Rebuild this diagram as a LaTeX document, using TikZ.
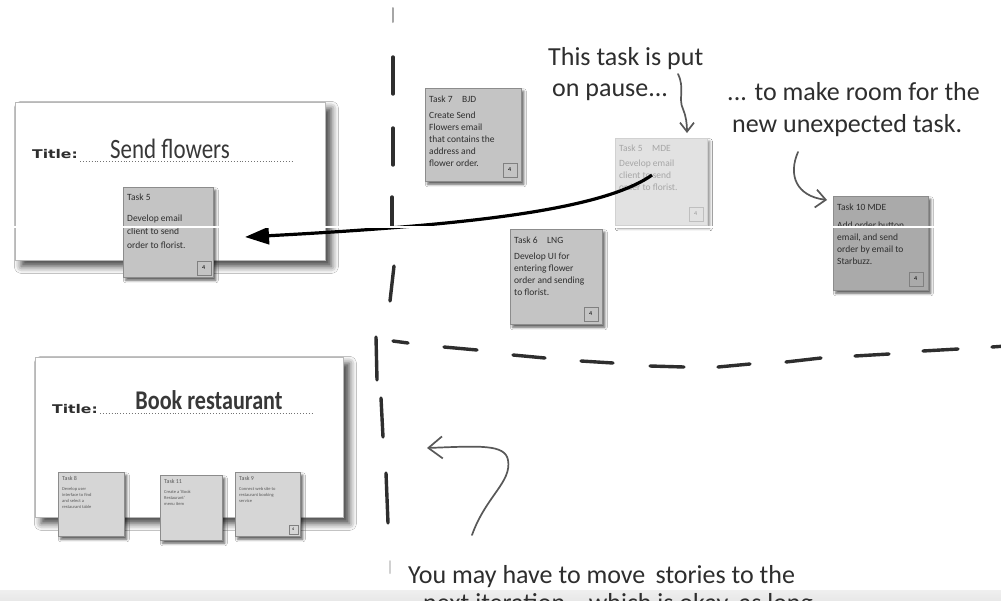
\documentclass[tikz,border=0pt]{standalone}
\usepackage{fontspec}
\setmainfont{Carlito}
\newfontfamily\labelfont{DejaVu Sans}
\usetikzlibrary{arrows.meta,shadows.blur}
\definecolor{ink}{HTML}{2E2E2E}
\definecolor{notegray}{HTML}{C4C4C4}
\definecolor{notedark}{HTML}{AAAAAA}
\definecolor{notefade}{HTML}{E2E2E2}
\definecolor{notelight}{HTML}{D6D6D6}
\definecolor{band}{HTML}{E8E8E8}
\tikzset{
  card/.style={draw=black!28, line width=0.8pt, fill=white, anchor=north west, inner sep=0pt,
    blur shadow={shadow xshift=6pt, shadow yshift=-6pt, shadow blur radius=7pt, shadow opacity=75}},
  note/.style={draw=black!45, line width=0.6pt, fill=notegray, anchor=north west, inner sep=0pt,
    blur shadow={shadow xshift=2.5pt, shadow yshift=-3pt, shadow blur radius=2.5pt, shadow opacity=65}},
  notetext/.style={anchor=north west, align=left, inner sep=0pt, text=ink,
    font=\fontsize{9.5}{12}\selectfont},
  tinytext/.style={anchor=north west, align=left, inner sep=0pt, text=ink!80,
    font=\fontsize{4.5}{6}\selectfont},
  numbox/.style={draw=black!50, line width=0.5pt, minimum size=14pt, inner sep=0pt,
    font=\fontsize{6}{6}\selectfont, anchor=south east},
  titlelabel/.style={font=\labelfont\bfseries\fontsize{12}{14}\selectfont, text=ink, inner sep=0pt},
  titletext/.style={text=black!78, inner sep=0pt},
  dotline/.style={draw=black!55, line width=0.9pt, dotted},
  boardline/.style={draw=ink, line width=3.4pt, line cap=round},
  hand/.style={font=\fontsize{26}{29}\selectfont, text=ink, inner sep=0pt, anchor=base west},
  pen/.style={draw=ink!80, line width=1.7pt, line cap=round},
}
\begin{document}
\begin{tikzpicture}[x=1pt,y=-1pt]
\useasboundingbox (0,0) rectangle (1001,600);
\clip (0,0) rectangle (1001,600);
\fill[white] (0,0) rectangle (1001,600);
% bottom grey band
\shade[top color=band!70, bottom color=band] (0,590) rectangle (1001,600);

% board lines: vertical
\draw[boardline, draw=black!35, line width=2pt] (393,8) -- (393,22);
\draw[boardline] (393,57) -- (393,94);
\draw[boardline] (393,128) -- (393,165);
\draw[boardline] (392,197) -- (392,226);
\draw[boardline] (394,266) -- (390,301);
\draw[boardline] (376,337) -- (377,380);
\draw[boardline] (381,398) -- (383,437);
\draw[boardline] (386,473) -- (388,523);
\draw[boardline, draw=black!18, line width=2pt] (390,561) -- (390,573);
% board lines: horizontal
\draw[boardline] (393,341) -- (408,343);
\draw[boardline] (444,347) -- (477,350);
\draw[boardline] (513,355) -- (545,358);
\draw[boardline] (581,361) -- (613,363);
\draw[boardline] (650,366) -- (684,367);
\draw[boardline] (718,367) -- (750,364);
\draw[boardline] (786,362) -- (821,358);
\draw[boardline] (855,356) -- (889,354);
\draw[boardline] (923,351) -- (958,349);
\draw[boardline] (992,347) -- (1006,346);

% ---- card: Send flowers
\node[card, minimum width=310pt, minimum height=158pt] (card1) at (15,102) {};
\node[titlelabel] (t1lab) at (55,154) {\scalebox{1.3}[1]{Title:}};
\draw[dotline] (80,161) -- (292,161);
\node[titletext] (t1) at (170,149) {\scalebox{0.82}[1]{\fontsize{28}{30}\selectfont Send flowers}};
% note Task 5 on card
\begin{scope}[shift={(123,187)}]
\node[note, minimum width=90pt, minimum height=90pt] (n5) at (0,0) {};
\node[notetext, font=\fontsize{9.5}{13.5}\selectfont] (n5t) at (4,7) {Task 5\\[7pt]Develop email\\client to send\\order to florist.};
\node[numbox] (n5b) at (88,88) {4};
\end{scope}

% ---- card: Book restaurant
\node[card, minimum width=308pt, minimum height=160pt] (card2) at (35,357) {};
\node[titlelabel] (t2lab) at (75,409) {\scalebox{1.3}[1]{Title:}};
\draw[dotline] (100,413) -- (313,413);
\node[titletext] (t2) at (209,400) {\scalebox{0.82}[1]{\fontsize{27}{30}\selectfont\bfseries Book restaurant}};
\begin{scope}[shift={(58,472)}]
\node[note, fill=notelight, minimum width=66pt, minimum height=64pt] (n8) at (0,0) {};
\node[tinytext, font=\fontsize{6}{8}\selectfont] (n8h) at (4,4) {Task 8};
\node[tinytext] (n8t) at (4,15) {Develop user\\interface to find\\and select a\\restaurant table};
\end{scope}
\begin{scope}[shift={(160,475)}]
\node[note, fill=notelight, minimum width=62pt, minimum height=65pt] (n11) at (0,0) {};
\node[tinytext, font=\fontsize{6}{8}\selectfont] (n11h) at (4,4) {Task 11};
\node[tinytext] (n11t) at (4,15) {Create a `Book\\Restaurant'\\menu item};
\end{scope}
\begin{scope}[shift={(235,472)}]
\node[note, fill=notelight, minimum width=65pt, minimum height=64pt] (n9) at (0,0) {};
\node[tinytext, font=\fontsize{6}{8}\selectfont] (n9h) at (4,4) {Task 9};
\node[tinytext] (n9t) at (4,15) {Connect web site to\\restaurant booking\\service};
\node[numbox, minimum size=9pt, font=\fontsize{4}{4}\selectfont] (n9b) at (63,62) {4};
\end{scope}

% ---- Task 7 BJD
\begin{scope}[shift={(425,88)}]
\node[note, minimum width=96pt, minimum height=93pt] (n7) at (0,0) {};
\node[notetext] (n7t) at (4,8) {Task 7\quad BJD\\[4pt]Create Send\\Flowers email\\that contains the\\address and\\flower order.};
\node[numbox] (n7b) at (92,89) {4};
\end{scope}

% ---- Task 6 LNG
\begin{scope}[shift={(510,229)}]
\node[note, minimum width=92pt, minimum height=95pt] (n6) at (0,0) {};
\node[notetext] (n6t) at (4,8) {Task 6\quad LNG\\[4pt]Develop UI for\\entering flower\\order and sending\\to florist.};
\node[numbox] (n6b) at (88,92) {4};
\end{scope}

% ---- Task 5 MDE (paused, faded)
\begin{scope}[shift={(615,138)}]
\node[note, fill=notefade, draw=black!18, minimum width=92pt, minimum height=87pt,
  blur shadow={shadow xshift=2.5pt, shadow yshift=-3pt, shadow blur radius=2.5pt, shadow opacity=25}] (n5m) at (0,0) {};
\node[notetext, text=black!35] (n5mt) at (4,7) {Task 5\quad MDE\\[3pt]Develop email\\client to send\\order to florist.};
\node[numbox, draw=black!25, text=black!40] (n5mb) at (88,83) {4};
\end{scope}

% ---- Task 10 MDE
\begin{scope}[shift={(833,196)}]
\node[note, fill=notedark, minimum width=95pt, minimum height=94pt] (n10) at (0,0) {};
\node[notetext] (n10t) at (4,8) {Task 10 MDE\\[6pt]Add order button\\email, and send\\order by email to\\Starbuzz.};
\node[numbox] (n10b) at (90,90) {4};
\end{scope}

% ---- main arrow: paused task moved back
\coordinate (mstart) at (652,175);
\coordinate (mtip) at (245,237);
\draw[draw=black, line width=3.2pt, -{Triangle[length=24pt,width=17pt]}]
  (mstart) .. controls (600,212) and (450,226) .. (mtip);

% scan artifact line
\draw[white, line width=1.4pt] (0,227) -- (1001,227);

% ---- annotations
\node[hand] (a1) at (548,65) {This task is put};
\node[hand] (a2) at (552,96) {on pause...};
\coordinate (a1s) at (678,74);
\draw[pen, -{Straight Barb[length=9pt,width=14pt]}]
  (a1s) .. controls (685,88) and (678,99) .. (683,109) .. controls (686,116) and (687,124) .. (687,133);

\node[hand] (b1) at (727,100) {... to make room for the};
\node[hand] (b2) at (732,132) {new unexpected task.};
\coordinate (b1s) at (798,152);
\coordinate (b1e) at (827,200);
\draw[pen, -{Straight Barb[length=10pt,width=18pt]}]
  (b1s) .. controls (788,175) and (796,196) .. (b1e);

\node[hand] (c1) at (408,583) {You may have to move\, stories to the};
\node[hand] (c2) at (423,611) {next iteration---which is okay, as long};
\coordinate (c1s) at (472,535);
\coordinate (c1e) at (427,448);
\draw[pen, -{Straight Barb[length=14pt,width=22pt]}]
  (c1s) .. controls (486,496) and (512,482) .. (508,460) .. controls (505,444) and (480,446) .. (c1e);
\end{tikzpicture}
\end{document}
